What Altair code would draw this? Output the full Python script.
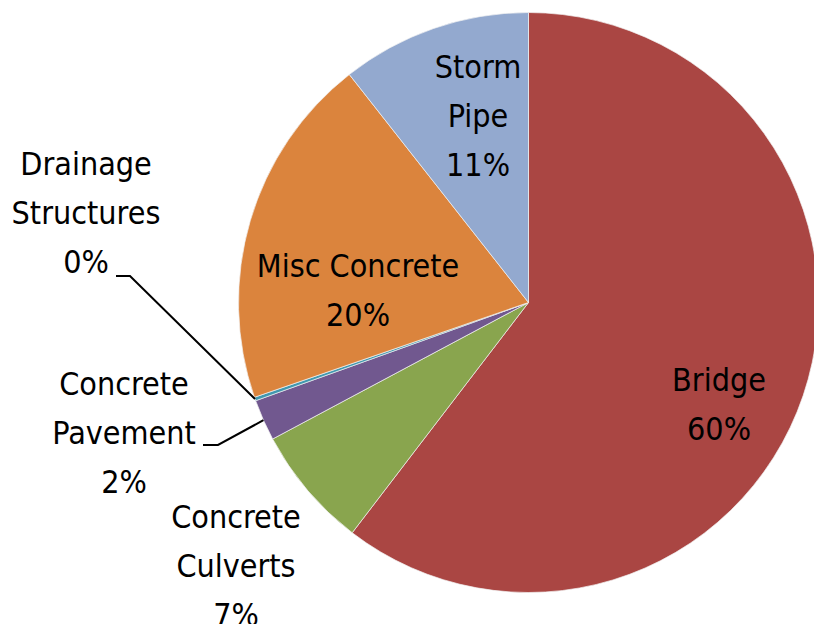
import altair as alt
import pandas as pd
import numpy as np

# ---- data ----
categories = ["Bridge", "Concrete Culverts", "Concrete Pavement",
              "Drainage Structures", "Misc Concrete", "Storm Pipe"]
label_text = ["Bridge", "Concrete\nCulverts", "Concrete\nPavement",
              "Drainage\nStructures", "Misc Concrete", "Storm\nPipe"]
shares = [60.4, 6.8, 2.3, 0.2, 19.7, 10.6]
colors = ["#AA4643", "#89A54E", "#71588F", "#4198AF", "#DB843D", "#93A9CF"]

# ---- layout (pixels, chart coordinates) ----
W, H = 806, 616
CX, CY, R = 520.5, 294.5, 290
# label anchor: (center x, first-line baseline y)
label_pos = {
    "Bridge": (711, 383),
    "Concrete Culverts": (228, 520),
    "Concrete Pavement": (116, 387),
    "Drainage Structures": (78, 167),
    "Misc Concrete": (350, 269),
    "Storm Pipe": (470, 70),
}
# leader elbows (label end, elbow) for outside labels
leaders = {
    "Drainage Structures": [(108, 268), (122, 268)],
    "Concrete Pavement": [(195, 437), (210, 437)],
}

df = pd.DataFrame({"category": categories, "share": shares,
                   "order": range(len(categories))})
total = sum(shares)
df["text"] = [f"{t}\n{round(s / total * 100):.0f}%" for t, s in zip(label_text, shares)]
df["lx"] = [label_pos[c][0] for c in categories]
df["ly"] = [label_pos[c][1] for c in categories]

# leader lines end at slice mid-angle on the pie edge
cum = np.cumsum([0] + shares)
rows = []
for i, c in enumerate(categories):
    if c in leaders:
        mid = (cum[i] + cum[i + 1]) / 2 / total * 2 * np.pi
        pts = leaders[c] + [(CX + R * np.sin(mid), CY - R * np.cos(mid))]
        for k, (x, y) in enumerate(pts):
            rows.append({"category": c, "k": k, "x": x, "y": y})
lead_df = pd.DataFrame(rows)

pie = alt.Chart(df).mark_arc(stroke="#f2f2f2", strokeWidth=0.7).encode(
    theta=alt.Theta("share:Q", stack=True),
    order=alt.Order("order:Q"),
    color=alt.Color("category:N", scale=alt.Scale(domain=categories, range=colors), legend=None),
    x=alt.value(CX), y=alt.value(CY), radius=alt.value(R),
)

labels = alt.Chart(df).mark_text(
    font="Liberation Sans Narrow, DejaVu Sans Condensed, Roboto, sans-serif",
    fontSize=32, lineBreak="\n", lineHeight=49,
    align="center", baseline="alphabetic", color="black",
).encode(
    x=alt.X("lx:Q", scale=None), y=alt.Y("ly:Q", scale=None), text="text:N",
)

lines = alt.Chart(lead_df).mark_line(color="black", strokeWidth=2).encode(
    x=alt.X("x:Q", scale=None), y=alt.Y("y:Q", scale=None),
    detail="category:N", order="k:Q",
)

chart = alt.layer(pie, lines, labels).properties(
    width=W, height=H, padding=0, autosize=alt.AutoSizeParams(type="none"),
).configure_view(strokeWidth=0)

chart.save("out.html", embed_options={"renderer": "svg", "actions": False})
